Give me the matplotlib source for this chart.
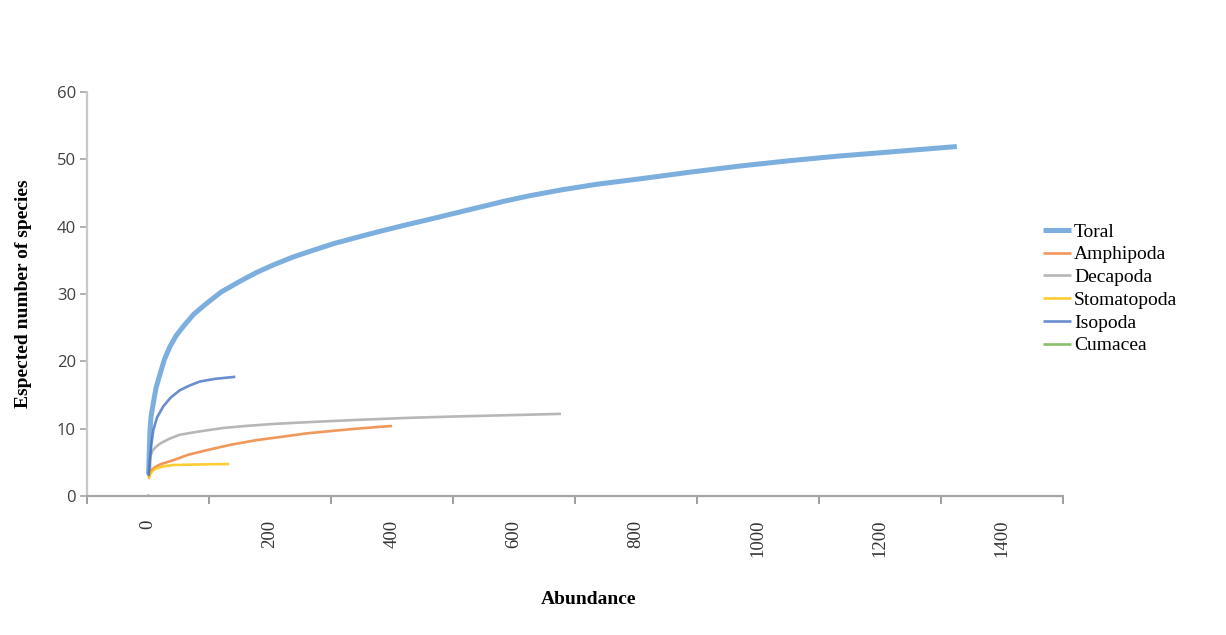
import matplotlib
matplotlib.use("Agg")
import matplotlib.pyplot as plt
from matplotlib.ticker import MultipleLocator, FixedLocator

# Rarefaction curves: abundance (individuals) vs expected number of species
toral_x = [1, 2, 3.3, 5, 8.7, 13, 20, 27, 36, 46, 58, 75, 96, 120, 151, 178, 205, 238, 271, 305, 342,
           380, 420, 462, 503, 544, 585, 626, 680, 736, 780, 823, 889, 970, 1052, 1134, 1190, 1244, 1326]
toral_y = [3.2, 6.5, 9.8, 11.8, 13.8, 16.0, 18.2, 20.3, 22.2, 23.8, 25.2, 27.0, 28.6, 30.3, 31.9, 33.2,
           34.3, 35.5, 36.5, 37.5, 38.4, 39.3, 40.2, 41.1, 42.0, 42.9, 43.8, 44.6, 45.5, 46.3, 46.8,
           47.3, 48.1, 49.0, 49.8, 50.5, 50.9, 51.3, 51.9]

amph_x = [1, 3.3, 10, 20, 41, 65, 96, 135, 178, 220, 260, 300, 342, 370, 400]
amph_y = [2.8, 3.6, 4.2, 4.7, 5.3, 6.1, 6.8, 7.6, 8.3, 8.8, 9.3, 9.65, 10.0, 10.2, 10.4]

deca_x = [1, 3.3, 8, 13, 20, 35, 52, 85, 123, 160, 205, 270, 342, 425, 500, 590, 677]
deca_y = [3.0, 5.8, 6.8, 7.3, 7.8, 8.5, 9.1, 9.6, 10.1, 10.4, 10.7, 11.0, 11.3, 11.6, 11.8, 12.0, 12.2]

stoma_x = [1, 4, 8, 14, 25, 41, 65, 95, 133]
stoma_y = [2.5, 3.3, 3.8, 4.1, 4.4, 4.6, 4.65, 4.7, 4.75]

iso_x = [1, 3, 5.5, 8.7, 15, 25, 37, 52, 68, 85, 110, 143]
iso_y = [3.0, 5.4, 7.6, 9.8, 11.7, 13.3, 14.6, 15.7, 16.4, 17.0, 17.4, 17.7]

cuma_x = [0, 2]
cuma_y = [0.0, 0.2]

series = [
    ("Toral", toral_x, toral_y, "#5B9BD5", 3.6),
    ("Amphipoda", amph_x, amph_y, "#ED7D31", 1.9),
    ("Decapoda", deca_x, deca_y, "#A5A5A5", 1.9),
    ("Stomatopoda", stoma_x, stoma_y, "#FFC000", 1.9),
    ("Isopoda", iso_x, iso_y, "#4472C4", 1.9),
    ("Cumacea", cuma_x, cuma_y, "#70AD47", 1.9),
]

x_labels = [0, 200, 400, 600, 800, 1000, 1200, 1400]
y_labels = [0, 10, 20, 30, 40, 50, 60]

serif = "Liberation Serif"

fig = plt.figure(figsize=(12.26, 6.35), dpi=100)
W, H = 1226, 635
ax = fig.add_axes([87 / W, 1 - 496 / H, (1063 - 87) / W, (496 - 92) / H])

for name, xs, ys, col, lw in series:
    ax.plot(xs, ys, color=col, lw=lw, alpha=0.8, solid_capstyle="butt",
            solid_joinstyle="round", label=name)

ax.set_xlim(-100, 1500)
ax.set_ylim(0, 60)

for s in ("top", "right"):
    ax.spines[s].set_visible(False)
ax.spines["left"].set_color("#C8C8C8")
ax.spines["left"].set_linewidth(1.6)
ax.spines["bottom"].set_color("#A6A6A6")
ax.spines["bottom"].set_linewidth(1.6)

ax.xaxis.set_major_locator(FixedLocator(x_labels))
ax.set_xticklabels([str(v) for v in x_labels], rotation=90, fontfamily=serif,
                   fontsize=13.5, color="#333333")
ax.xaxis.set_minor_locator(MultipleLocator(200, offset=100))
ax.tick_params(axis="x", which="major", length=0, pad=17)
ax.tick_params(axis="x", which="minor", length=6, width=1.2, color="#8C8C8C", direction="out")

ax.yaxis.set_major_locator(FixedLocator(y_labels))
ax.set_yticklabels([str(v) for v in y_labels], fontfamily="Open Sans", fontsize=12,
                   color="#404040")
ax.tick_params(axis="y", which="major", length=5, width=1.2, color="#A6A6A6", pad=3)

ax.set_xlabel("Abundance", fontfamily=serif, fontweight="bold", fontsize=14, labelpad=26)
ax.xaxis.set_label_coords((589 - 87) / (1063 - 87), -(600 - 496) / (496 - 92) - 0.0,
                          transform=ax.transAxes)
ax.xaxis.label.set_va("center")
ax.set_ylabel("Espected number of species", fontfamily=serif, fontweight="bold",
              fontsize=14, labelpad=18)

leg = fig.legend(loc="upper left", bbox_to_anchor=(1043 / W, 1 - 223 / H),
                 frameon=False, prop={"family": serif, "size": 14},
                 handlelength=1.45, handletextpad=0.15, labelspacing=0.265,
                 borderaxespad=0, borderpad=0)
for line in leg.get_lines():
    line.set_alpha(0.8)

fig.savefig("out.png", dpi=100, facecolor="white")
